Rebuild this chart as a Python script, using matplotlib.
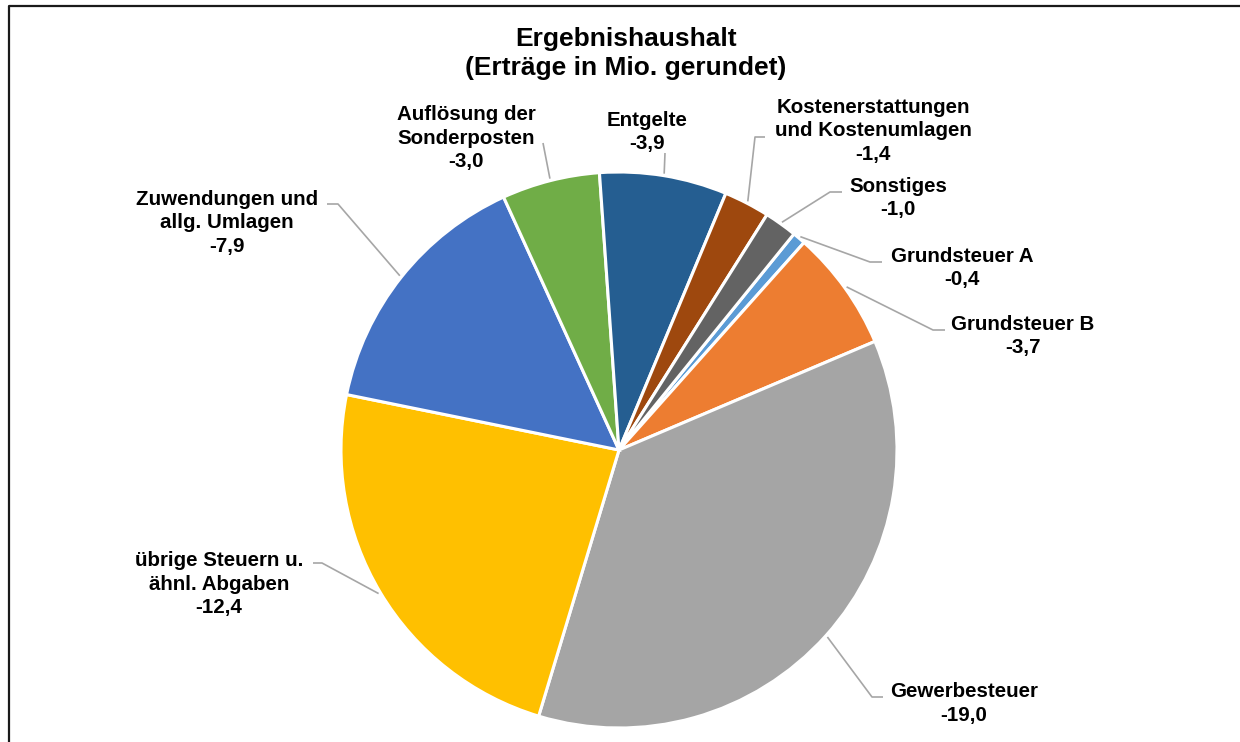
import numpy as np
import matplotlib.pyplot as plt

plt.rcParams['font.family'] = ['Liberation Sans', 'DejaVu Sans']

W, H = 1240, 742

labels = ['Grundsteuer A', 'Grundsteuer B', 'Gewerbesteuer',
          'übrige Steuern u.\nähnl. Abgaben', 'Zuwendungen und\nallg. Umlagen',
          'Auflösung der\nSonderposten', 'Entgelte',
          'Kostenerstattungen\nund Kostenumlagen', 'Sonstiges']
values = [-0.4, -3.7, -19.0, -12.4, -7.9, -3.0, -3.9, -1.4, -1.0]
colors = ['#5B9BD5', '#ED7D31', '#A5A5A5', '#FFC000', '#4472C4',
          '#70AD47', '#255E91', '#9E480E', '#636363']

# layout in pixels from the top left: label centre x / top y, leader knee x, y, end x
label_pos = [(962, 247), (1023, 315), (964, 682), (219, 551), (227, 190),
             (466, 105), (647, 111), (873, 98), (898, 177)]
knees = [(870, 262, 882), (933, 330, 945), (872, 697, 883), (322, 563, 313),
         (338, 204, 327), (543, 143, None), (665, 153, None), (755, 137, 765),
         (830, 192, 842)]

cx, cy, r = 619, H - 450, 278

fig = plt.figure(figsize=(W / 100, H / 100), dpi=100)
ax = fig.add_axes([0, 0, 1, 1])
wedges, _ = ax.pie(np.abs(values), colors=colors, startangle=51, counterclock=False,
                   center=(cx, cy), radius=r, frame=True,
                   wedgeprops=dict(edgecolor='white', linewidth=2.2))
ax.set_xlim(0, W)
ax.set_ylim(0, H)
ax.axis('off')

for w, lab, v, (tx, ty), (kx, ky, ex) in zip(wedges, labels, values, label_pos, knees):
    mid = np.deg2rad((w.theta1 + w.theta2) / 2)
    px = cx + (r + 2) * np.cos(mid)
    py = cy + (r + 2) * np.sin(mid)
    xs = [px, kx]
    ys = [py, H - ky]
    if ex is not None:
        xs.append(ex)
        ys.append(H - ky)
    ax.plot(xs, ys, color='#A6A6A6', lw=1.2, solid_capstyle='butt')
    txt = lab + '\n' + f'{v:.1f}'.replace('.', ',')
    ax.text(tx, H - ty, txt, ha='center', va='top', fontsize=14.8,
            fontweight='bold', linespacing=1.3)

ax.text(626, H - 27, 'Ergebnishaushalt\n(Erträge in Mio. gerundet)', ha='center',
        va='top', fontsize=19, fontweight='bold', linespacing=1.28)

# chart frame, cut off on the right and bottom
ax.plot([8.5, 8.5, W], [0, H - 6, H - 6], color='#1a1a1a', lw=1.6, clip_on=False)

fig.savefig('out.png', dpi=100)
